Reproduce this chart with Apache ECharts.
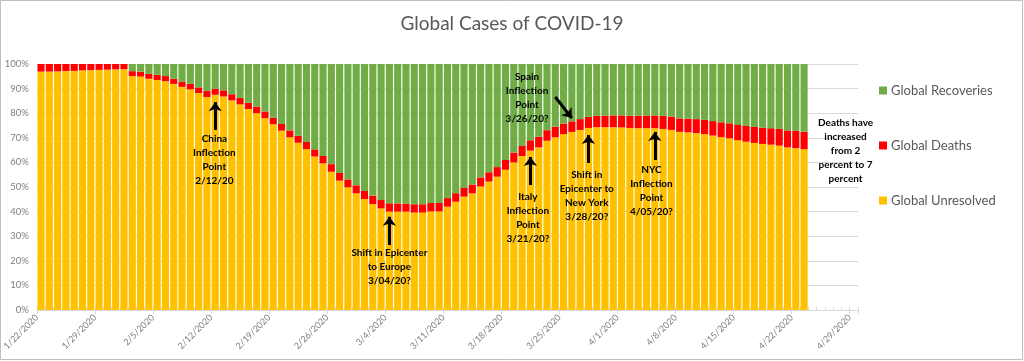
<!DOCTYPE html>
<html>
<head>
<meta charset="utf-8">
<script src="https://cdn.jsdelivr.net/npm/echarts@6/dist/echarts.min.js"></script>
<style>html,body{margin:0;padding:0;background:#fff}#c{width:1024px;height:361px}</style>
</head>
<body>
<div id="c"></div>
<script>
// Axis slots: one per day from 1/22/2020 through 4/29/2020
const axisDates = [];
(function(){ const d0 = new Date(2020,0,22); for(let i=0;i<99;i++){ const d=new Date(d0.getTime()+i*86400000); axisDates.push((d.getMonth()+1)+'/'+d.getDate()+'/'+d.getFullYear()); } })();

const unresolved = [96.9,96.9,97.0,97.1,97.2,97.4,97.5,97.6,97.7,97.8,97.9,
95.1,94.9,94.0,93.5,93.0,91.9,90.7,89.7,88.2,86.6,
87.5,86.8,85.2,83.6,81.7,80.0,78.0,75.5,72.9,70.2,
68.0,65.4,62.4,59.6,56.2,52.6,49.9,47.4,45.1,43.1,
41.3,40.0,40.0,40.0,39.6,39.6,40.1,40.1,42.0,44.0,
46.1,47.4,50.2,52.2,54.2,57.0,60.0,62.6,64.8,66.1,
68.8,70.2,71.5,72.4,73.2,74.0,74.3,74.3,74.3,74.2,
74.0,73.9,73.9,73.9,73.6,73.2,72.4,72.2,71.9,71.5,
70.9,70.3,69.8,69.0,68.4,67.9,67.5,67.2,66.8,66.1,65.8,65.4];
const deaths = [3.1,3.1,3.0,2.9,2.8,2.6,2.5,2.4,2.3,2.2,2.1,
2.0,2.0,2.0,2.1,2.1,2.1,2.2,2.2,2.3,2.4,
2.4,2.5,2.5,2.6,2.6,2.6,2.7,2.7,2.7,2.8,
2.8,2.9,2.9,3.0,3.1,3.1,3.2,3.3,3.3,3.4,
3.4,3.4,3.3,3.3,3.4,3.4,3.4,3.4,3.5,3.5,
3.5,3.6,3.7,3.8,3.9,4.0,4.0,4.1,4.2,4.3,
4.3,4.3,4.3,4.3,4.4,4.5,4.6,4.7,4.8,4.9,
5.0,5.1,5.2,5.2,5.3,5.4,5.5,5.6,5.7,5.8,
5.9,6.0,6.1,6.2,6.4,6.5,6.6,6.7,6.8,6.9,7.0,7.1];
const recoveries = [0,0,0,0,0,0,0,0,0,0,0,
2.9,3.1,4.0,4.4,4.9,6.0,7.1,8.1,9.5,11.0,
10.1,10.7,12.3,13.8,15.7,17.4,19.3,21.8,24.4,27.0,
29.2,31.7,34.7,37.4,40.7,44.3,46.9,49.3,51.6,53.5,
55.3,56.6,56.7,56.7,57.0,57.0,56.5,56.5,54.5,52.5,
50.4,49.0,46.1,44.0,41.9,39.0,36.0,33.3,31.0,29.6,
26.9,25.5,24.2,23.3,22.4,21.5,21.1,21.0,20.9,20.9,
21.0,21.0,20.9,20.9,21.1,21.4,22.1,22.2,22.4,22.7,
23.2,23.7,24.1,24.8,25.2,25.6,25.9,26.1,26.4,27.0,27.2,27.5];
const yTicks = [0,10,20,30,40,50,60,70,80,90,100];

// Annotations: x in days since 1/22/2020, y in percent
const noteTexts = [
  {text:'China\nInflection\nPoint\n2/12/20', x:21.4, y:61.0},
  {text:'Shift in Epicenter\nto Europe\n3/04/20?', x:42.5, y:17.5},
  {text:'Spain\nInflection\nPoint\n3/26/20?', x:59.1, y:86.2},
  {text:'Italy\nInflection\nPoint\n3/21/20?', x:59.2, y:37.4},
  {text:'Shift in\nEpicenter to\nNew York\n3/28/20?', x:66.3, y:46.5},
  {text:'NYC\nInflection\nPoint\n4/05/20?', x:74.1, y:48.6},
  {text:'Deaths have\nincreased\nfrom 2\npercent to 7\npercent', x:97.5, y:64.8}
];
const arrows = [
  {from:[21.5,73.2], to:[21.5,84.5]},
  {from:[42.5,26.4], to:[42.5,37.9]},
  {from:[59.5,50.8], to:[59.5,62.2]},
  {from:[66.5,59.8], to:[66.5,71.1]},
  {from:[74.5,61.0], to:[74.5,72.4]},
  {from:[62.5,86.6], to:[64.5,78.0]}
];

const chart = echarts.init(document.getElementById('c'), null, {renderer:'canvas'});
const FONT = 'Lato';
chart.setOption({
  animation:false,
  backgroundColor:'#fff',
  title:{text:'Global Cases of COVID-19', left:'center', top:9,
    textStyle:{fontFamily:FONT, fontSize:19, fontWeight:'normal', color:'#595959'}},
  legend:{orient:'vertical', left:874, top:79, itemGap:42, itemWidth:8, itemHeight:8, icon:'rect',
    data:['Global Recoveries','Global Deaths','Global Unresolved'],
    textStyle:{fontFamily:FONT, fontSize:13, color:'#595959', padding:[0,0,0,-1]}},
  grid:{left:36, right:166, top:64, bottom:51},
  xAxis:[
    {type:'category', data:axisDates, boundaryGap:true,
     axisLine:{show:false}, axisLabel:{show:false},
     axisTick:{show:true, inside:true, interval:0, length:3, lineStyle:{color:'#d9d9d9'}},
     splitLine:{show:false}},
    {type:'value', min:0, max:99, interval:7, position:'bottom',
     axisLine:{show:true, lineStyle:{color:'#d9d9d9'}},
     axisTick:{show:true, length:4, lineStyle:{color:'#d9d9d9'}},
     splitLine:{show:false},
     axisLabel:{rotate:45, margin:6, fontFamily:FONT, fontSize:9, color:'#7f7f7f',
       formatter:function(v){ return (v%7===0 && v<99) ? axisDates[v] : ''; }}}
  ],
  yAxis:{type:'value', min:0, max:100, interval:10,
    axisLine:{show:false}, axisTick:{show:false},
    axisLabel:{formatter:function(v){return v+'%';}, fontFamily:FONT, fontSize:9.5, color:'#7f7f7f', margin:8},
    splitLine:{lineStyle:{color:'#d9d9d9', width:1}}},
  series:[
    {name:'Global Unresolved', type:'bar', stack:'all', xAxisIndex:0, data:unresolved, barCategoryGap:'14%', itemStyle:{color:'#ffc000'}},
    {name:'Global Deaths', type:'bar', stack:'all', xAxisIndex:0, data:deaths, barCategoryGap:'14%', itemStyle:{color:'#ff0000'}},
    {name:'Global Recoveries', type:'bar', stack:'all', xAxisIndex:0, data:recoveries, barCategoryGap:'14%', itemStyle:{color:'#70ad47'}},
    {name:'notes', type:'scatter', xAxisIndex:1, yAxisIndex:0, data:[], silent:true, z:10,
     markPoint:{symbol:'circle', symbolSize:0, silent:true,
       label:{show:true, position:'inside', fontFamily:FONT, fontWeight:'bold', fontSize:10, lineHeight:14, color:'#000', align:'center'},
       data:noteTexts.map(n=>({coord:[n.x,n.y], value:n.text, label:{formatter:n.text}}))},
     markLine:{silent:true, symbol:['none','arrow'], symbolSize:[10,9],
       label:{show:false}, lineStyle:{color:'#000', width:3, type:'solid'},
       data:arrows.map(a=>[{coord:a.from},{coord:a.to}])}}
  ],
  graphic:[{type:'rect', shape:{x:0.5, y:0.5, width:1022, height:359}, style:{fill:'none', stroke:'#bfbfbf', lineWidth:1}, silent:true, z:100}]
});
</script>
</body>
</html>
